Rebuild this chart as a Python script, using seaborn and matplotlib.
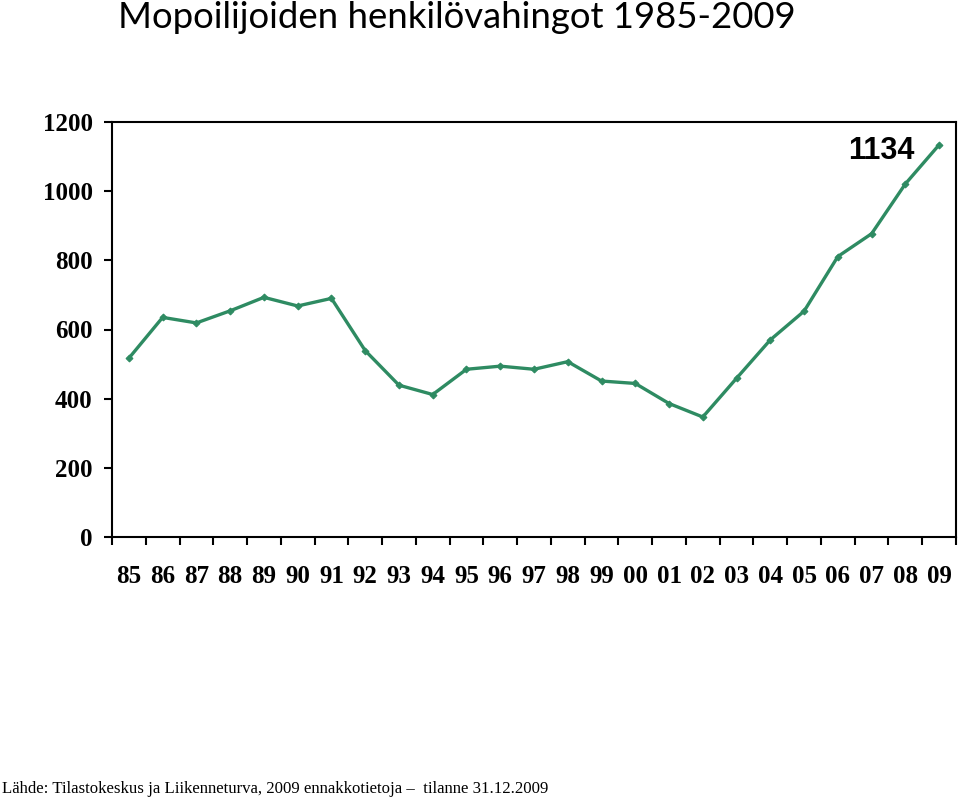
import matplotlib
matplotlib.use("Agg")
import matplotlib.pyplot as plt
import seaborn as sns
import pandas as pd
from matplotlib.ticker import FixedLocator

years = ["85", "86", "87", "88", "89", "90", "91", "92", "93", "94", "95", "96", "97",
         "98", "99", "00", "01", "02", "03", "04", "05", "06", "07", "08", "09"]
injuries = [517, 635, 619, 654, 693, 668, 690, 539, 439, 412, 485, 494, 485,
            507, 451, 444, 386, 347, 459, 570, 653, 811, 877, 1021, 1134]
y_ticks = [0, 200, 400, 600, 800, 1000, 1200]

title = "Mopoilijoiden henkilövahingot 1985-2009"
source = "Lähde: Tilastokeskus ja Liikenneturva, 2009 ennakkotietoja –  tilanne 31.12.2009"
last_label = "1134"

sns.set_style("white")
plt.rcParams['font.family'] = ['Liberation Serif', 'DejaVu Serif']
plt.rcParams['text.color'] = 'black'
plt.rcParams['xtick.color'] = 'black'
plt.rcParams['ytick.color'] = 'black'
plt.rcParams['axes.labelcolor'] = 'black'

df = pd.DataFrame({"idx": range(len(years)), "value": injuries})

fig = plt.figure(figsize=(9.6, 8), dpi=100)
ax = fig.add_axes([112/960, 1-537/800, (956-112)/960, (537-122)/800])

color = "#2E8B62"
sns.lineplot(data=df, x="idx", y="value", ax=ax, color=color, linewidth=2.4,
             marker="D", markersize=3.5, markeredgecolor=color, markerfacecolor=color)

ax.set_xlim(-0.5, len(years) - 0.5)
ax.set_ylim(0, 1200)
ax.set_yticks(y_ticks)
ax.set_yticklabels([str(v) for v in y_ticks], fontsize=18, fontweight="bold")
ax.set_xticks(range(len(years)))
ax.set_xticklabels(years, fontsize=18, fontweight="bold")
ax.xaxis.set_minor_locator(FixedLocator([i - 0.5 for i in range(len(years) + 1)]))
ax.tick_params(axis="x", which="major", length=0, pad=20)
ax.tick_params(axis="x", which="minor", length=6, width=1.5, color="black", bottom=True, direction="out")
ax.tick_params(axis="y", which="major", length=6, width=1.5, color="black", left=True, direction="out", pad=8)
ax.set_xlabel("")
ax.set_ylabel("")
for s in ax.spines.values():
    s.set_color("black")
    s.set_linewidth(1.5)

ax.text(22.3, 1115, last_label, fontsize=22, fontweight="bold",
        family=["Liberation Sans", "DejaVu Sans"], ha="center", va="center")

fig.text(118/960, 1-18/800, title, fontsize=26.3, family=["Lato", "DejaVu Sans"],
         ha="left", va="center")
fig.text(2/960, 1-789/800, source, fontsize=12.05, ha="left", va="center")

fig.savefig("out.png", dpi=100)
